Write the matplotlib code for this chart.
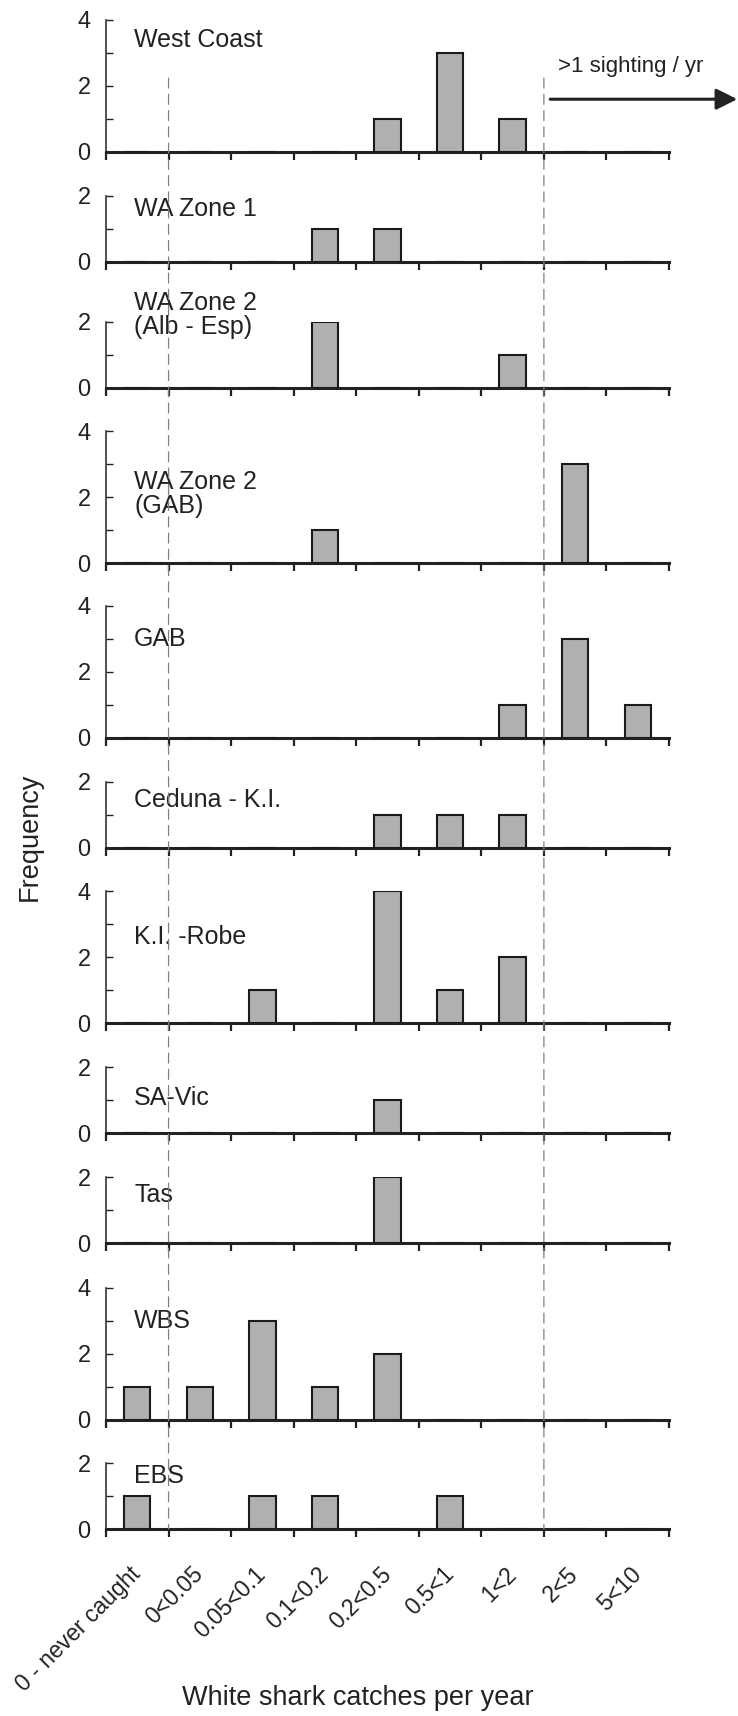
import numpy as np
import matplotlib.pyplot as plt
from matplotlib.patches import ConnectionPatch

plt.rcParams["font.family"] = ["Liberation Sans", "DejaVu Sans"]

categories = ["0 - never caught", "0<0.05", "0.05<0.1", "0.1<0.2", "0.2<0.5",
              "0.5<1", "1<2", "2<5", "5<10"]

regions = ["West Coast", "WA Zone 1", "WA Zone 2\n(Alb - Esp)", "WA Zone 2\n(GAB)",
           "GAB", "Ceduna - K.I.", "K.I. -Robe", "SA-Vic", "Tas", "WBS", "EBS"]

west_coast = [0, 0, 0, 0, 1, 3, 1, 0, 0]
wa_zone1 = [0, 0, 0, 1, 1, 0, 0, 0, 0]
wa_zone2_alb = [0, 0, 0, 2, 0, 0, 1, 0, 0]
wa_zone2_gab = [0, 0, 0, 1, 0, 0, 0, 3, 0]
gab = [0, 0, 0, 0, 0, 0, 1, 3, 1]
ceduna_ki = [0, 0, 0, 0, 1, 1, 1, 0, 0]
ki_robe = [0, 0, 1, 0, 4, 1, 2, 0, 0]
sa_vic = [0, 0, 0, 0, 1, 0, 0, 0, 0]
tas = [0, 0, 0, 0, 2, 0, 0, 0, 0]
wbs = [1, 1, 3, 1, 2, 0, 0, 0, 0]
ebs = [1, 0, 1, 1, 0, 1, 0, 0, 0]

counts = [west_coast, wa_zone1, wa_zone2_alb, wa_zone2_gab, gab, ceduna_ki,
          ki_robe, sa_vic, tas, wbs, ebs]
y_max = [4, 2, 2, 4, 4, 2, 4, 2, 2, 4, 2]
label_y = [3.4, 1.6, 2.2, 2.1, 3.0, 1.45, 2.6, 1.05, 1.45, 3.0, 1.6]

# layout in pixels
W, H = 738, 1716
unit = 33
tops = [20, 196, 322, 431, 606, 782, 891, 1067, 1177, 1288, 1463]
x0, x1 = 106, 669

fig = plt.figure(figsize=(W / 100, H / 100), dpi=100)
x = np.arange(len(categories))
axes = []
for i, (vals, ym) in enumerate(zip(counts, y_max)):
    top = tops[i]
    zero = top + ym * unit
    ax = fig.add_axes([x0 / W, 1 - zero / H, (x1 - x0) / W, ym * unit / H])
    ax.bar(x, vals, width=0.42, color="#b0b0b0", edgecolor="#1a1a1a",
           linewidth=1.5, zorder=3)
    ax.set_xlim(-0.5, 8.5)
    ax.set_ylim(0, ym)
    for s in ["top", "right"]:
        ax.spines[s].set_visible(False)
    ax.spines["bottom"].set_linewidth(2.2)
    ax.spines["bottom"].set_color("#222222")
    ax.spines["left"].set_linewidth(1.2)
    ax.spines["left"].set_color("#333333")
    ax.set_yticks(np.arange(0, ym + 1, 2))
    ax.set_yticks(np.arange(1, ym, 2), minor=True)
    ax.tick_params(axis="y", which="both", direction="in", length=5, width=1.0,
                   labelsize=17, pad=11, colors="#222222")
    ax.set_xticks(np.arange(-0.5, 9, 1))
    ax.set_xticklabels([])
    ax.tick_params(axis="x", which="major", direction="out", length=6, width=1.6,
                   color="#222222")
    ax.text(-0.05, label_y[i], regions[i], fontsize=18, ha="left", va="center",
            color="#222222", linespacing=1.0)
    axes.append(ax)

bottom = axes[-1]
bottom.set_xticks(x, minor=True)
bottom.set_xticklabels(categories, minor=True, rotation=45, ha="right",
                       va="center", rotation_mode="anchor", fontsize=16.5,
                       color="#222222")
bottom.tick_params(axis="x", which="minor", length=0, pad=30)

# dashed boundaries through all panels
for xb in [0.5, 6.5]:
    con = ConnectionPatch(xyA=(xb, 2.24), coordsA="data", axesA=axes[0],
                          xyB=(xb, 0), coordsB="data", axesB=bottom,
                          color="#808080", lw=0.9, linestyle=(0, (8, 5)))
    fig.add_artist(con)

top_ax = axes[0]
top_ax.text(6.72, 2.6, ">1 sighting / yr", fontsize=16, ha="left", va="center",
            color="#222222")
top_ax.annotate("", xy=(0.999, 1.6), xycoords=("figure fraction", "data"),
                xytext=(6.6, 1.6), textcoords="data",
                arrowprops=dict(arrowstyle="-|>", lw=2.2, color="#222222",
                                mutation_scale=32, shrinkA=0, shrinkB=0),
                annotation_clip=False)

fig.text(30 / W, 1 - 837 / H, "Frequency", rotation=90, fontsize=19.5,
         ha="center", va="center", color="#222222")
fig.text(358 / W, 1 - 1698 / H, "White shark catches per year", fontsize=19.5,
         ha="center", va="center", color="#222222")

fig.savefig("out.png", dpi=100, facecolor="white")
